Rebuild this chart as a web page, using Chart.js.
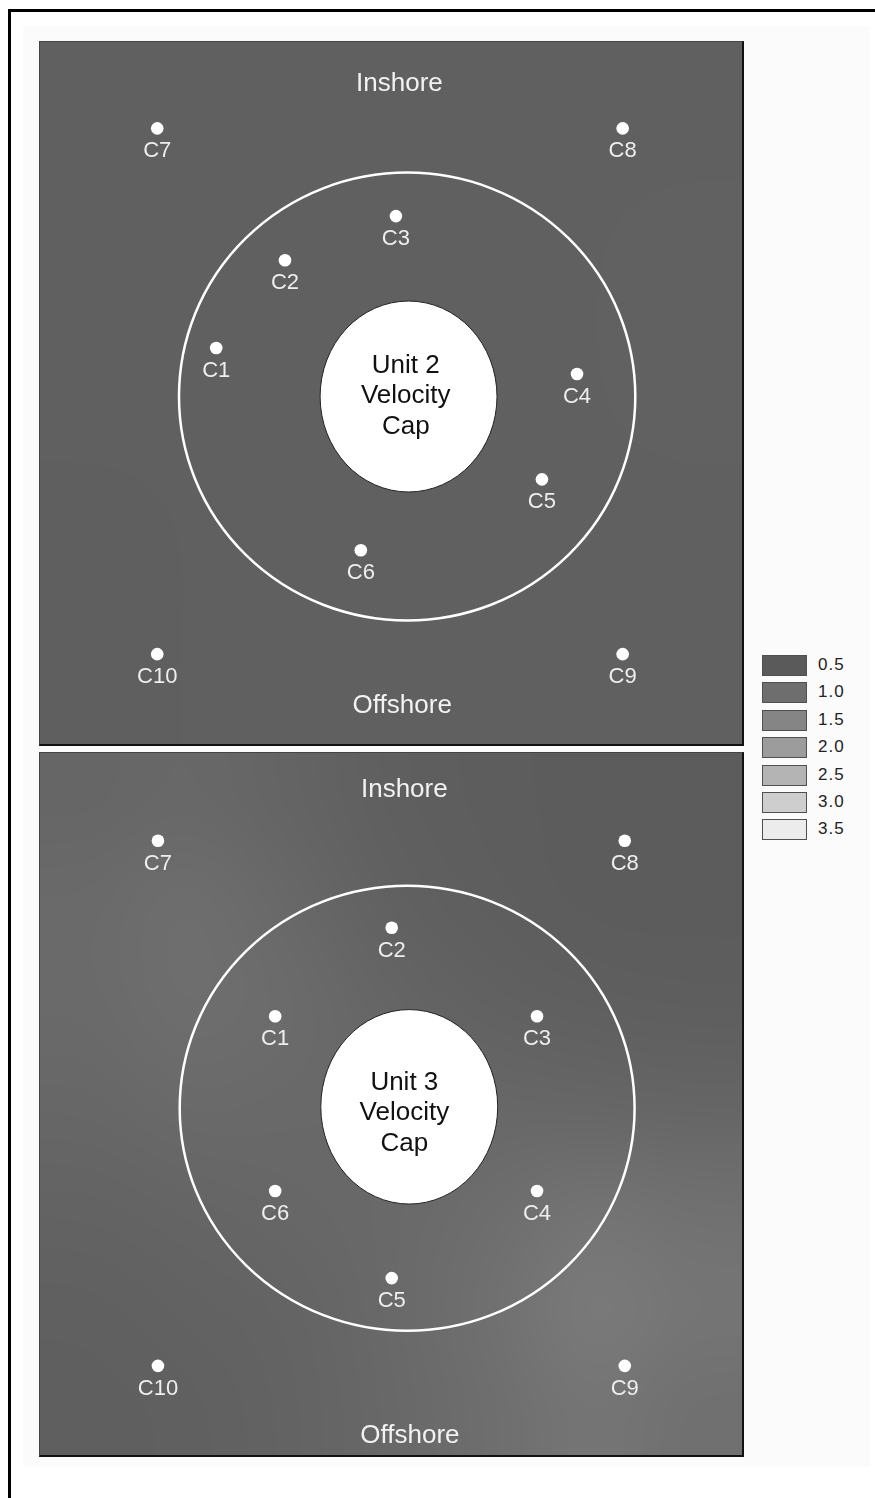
<!DOCTYPE html>
<html>
<head>
<meta charset="utf-8">
<script src="https://cdn.jsdelivr.net/npm/chart.js@4.4.1/dist/chart.umd.min.js"></script>
<style>
    body { margin: 0; width: 875px; height: 1498px; overflow: hidden; background: #fff; font-family: "Liberation Sans", Arial, sans-serif; position: relative; }
    .frame { position: absolute; left: 8px; top: 9px; width: 900px; height: 1600px; border-left: 3px solid #000; border-top: 3px solid #000; }
    .sheet { position: absolute; left: 23px; top: 26px; width: 847px; height: 1441px; background: #fbfbfb; }
    .panel { position: absolute; left: 39px; width: 702px; height: 702px; border-top: 1px solid #444; border-left: 1px solid #444; border-right: 2px solid #111; border-bottom: 2px solid #111; background: #606060; }
    .panel canvas { display: block; }
    #legend { position: absolute; left: 762px; top: 655px; }
    .lg-row { position: relative; height: 27.4px; }
    .lg-box { position: absolute; left: 0; top: 0; width: 43px; height: 19px; border: 1px solid #505050; }
    .lg-txt { position: absolute; left: 56px; top: -1px; font-size: 17px; letter-spacing: 1px; color: #222; line-height: 21px; }
</style>
</head>
<body>
<div class="frame"></div>
<div class="sheet"></div>
<div class="panel" style="top:41px"><canvas id="unit2" width="702" height="702"></canvas></div>
<div class="panel" style="top:752px"><canvas id="unit3" width="702" height="702"></canvas></div>
<div id="legend"></div>

<script>
// station names and positions (panel units, 0..100, y = 100 at the inshore edge)
const stations = ["C1", "C2", "C3", "C4", "C5", "C6", "C7", "C8", "C9", "C10"];
const unit2X = [25.1, 34.9, 50.7, 76.5, 71.5, 45.7, 16.7, 83.0, 83.0, 16.7];
const unit2Y = [56.4, 68.9, 75.2, 52.7, 37.7, 27.6, 87.7, 87.7, 12.8, 12.8];
const unit3X = [33.5, 50.1, 70.8, 70.8, 50.1, 33.5, 16.8, 83.3, 83.3, 16.8];
const unit3Y = [62.5, 75.1, 62.5, 37.6, 25.2, 37.6, 87.5, 87.5, 12.7, 12.7];

// ring and velocity cap: [centerX, centerY, radiusX, radiusY]
const unit2Ring = [52.3, 49.5, 32.5, 31.9];
const unit2Cap = [52.5, 49.5, 12.6, 13.6];
const unit3Ring = [52.3, 49.4, 32.4, 31.7];
const unit3Cap = [52.6, 49.6, 12.6, 13.85];

// legend levels (velocity) and their grey shades
const legendLevels = [0.5, 1.0, 1.5, 2.0, 2.5, 3.0, 3.5];
const legendGrays = [90, 110, 133, 156, 180, 206, 236];

// estimated velocity field, rows from inshore to offshore
const unit2Field = [
    [0.64, 0.66, 0.65, 0.66, 0.66],
    [0.64, 0.65, 0.65, 0.66, 0.67],
    [0.64, 0.65, 0.65, 0.66, 0.67],
    [0.63, 0.64, 0.65, 0.66, 0.66],
    [0.63, 0.64, 0.65, 0.65, 0.65]
];
const unit3Field = [
    [0.80, 0.85, 0.75, 0.62, 0.58, 0.55, 0.55],
    [0.90, 1.00, 0.85, 0.68, 0.60, 0.55, 0.55],
    [0.90, 1.00, 0.92, 0.78, 0.68, 0.62, 0.60],
    [0.82, 0.90, 0.88, 0.85, 0.82, 0.80, 0.78],
    [0.72, 0.78, 0.82, 0.88, 0.98, 1.10, 1.05],
    [0.66, 0.70, 0.76, 0.88, 1.05, 1.25, 1.15],
    [0.62, 0.66, 0.72, 0.85, 1.00, 1.15, 1.05]
];

const FONT = '"Liberation Sans", Arial, sans-serif';

function velocityToGray(v) {
    if (v <= legendLevels[0]) return legendGrays[0];
    for (let i = 1; i < legendLevels.length; i++) {
        if (v <= legendLevels[i]) {
            const t = (v - legendLevels[i - 1]) / (legendLevels[i] - legendLevels[i - 1]);
            return Math.round(legendGrays[i - 1] + t * (legendGrays[i] - legendGrays[i - 1]));
        }
    }
    return legendGrays[legendGrays.length - 1];
}

function grayHex(g) {
    const h = g.toString(16).padStart(2, "0");
    return "#" + h + h + h;
}

// cap-centred text at a pixel position
function capText(ctx, text, px, py, size) {
    ctx.font = size + "px " + FONT;
    ctx.textAlign = "center";
    ctx.textBaseline = "alphabetic";
    ctx.fillText(text, px, py + size * 0.358);
}

function panelPlugin(cfg) {
    return {
        id: "panelDecor",
        beforeDatasetsDraw(chart) {
            const ctx = chart.ctx;
            const xs = chart.scales.x;
            const ys = chart.scales.y;
            ctx.save();

            // velocity field
            const rows = cfg.field.length, cols = cfg.field[0].length;
            const off = document.createElement("canvas");
            off.width = cols;
            off.height = rows;
            const octx = off.getContext("2d");
            const img = octx.createImageData(cols, rows);
            cfg.field.forEach((row, r) => row.forEach((v, c) => {
                const g = velocityToGray(v);
                const k = (r * cols + c) * 4;
                img.data[k] = img.data[k + 1] = img.data[k + 2] = g;
                img.data[k + 3] = 255;
            }));
            octx.putImageData(img, 0, 0);
            const left = xs.getPixelForValue(0), right = xs.getPixelForValue(100);
            const top = ys.getPixelForValue(100), bottom = ys.getPixelForValue(0);
            ctx.imageSmoothingEnabled = true;
            ctx.imageSmoothingQuality = "high";
            ctx.drawImage(off, left, top, right - left, bottom - top);

            // outer ring
            const ring = cfg.ring;
            const rcx = xs.getPixelForValue(ring[0]);
            const rcy = ys.getPixelForValue(ring[1]);
            const rrx = xs.getPixelForValue(ring[0] + ring[2]) - rcx;
            const rry = rcy - ys.getPixelForValue(ring[1] + ring[3]);
            ctx.beginPath();
            ctx.ellipse(rcx, rcy, rrx, rry, 0, 0, Math.PI * 2);
            ctx.strokeStyle = "#ffffff";
            ctx.lineWidth = 2.5;
            ctx.stroke();

            // velocity cap
            const cap = cfg.cap;
            const ccx = xs.getPixelForValue(cap[0]);
            const ccy = ys.getPixelForValue(cap[1]);
            const crx = xs.getPixelForValue(cap[0] + cap[2]) - ccx;
            const cry = ccy - ys.getPixelForValue(cap[1] + cap[3]);
            ctx.beginPath();
            ctx.ellipse(ccx, ccy, crx, cry, 0, 0, Math.PI * 2);
            ctx.fillStyle = "#ffffff";
            ctx.fill();
            ctx.strokeStyle = "#222";
            ctx.lineWidth = 1;
            ctx.stroke();

            ctx.fillStyle = "#111";
            const tx = xs.getPixelForValue(cfg.capTextAt[0]);
            const ty = ys.getPixelForValue(cfg.capTextAt[1]);
            cfg.capLines.forEach((line, i) => {
                capText(ctx, line, tx, ty + (i - 1) * 30.5, 26);
            });

            // shore labels
            ctx.fillStyle = "#f2f2f2";
            capText(ctx, "Inshore", xs.getPixelForValue(cfg.inshoreAt[0]), ys.getPixelForValue(cfg.inshoreAt[1]), 26);
            capText(ctx, "Offshore", xs.getPixelForValue(cfg.offshoreAt[0]), ys.getPixelForValue(cfg.offshoreAt[1]), 26);

            ctx.restore();
        },
        afterDatasetsDraw(chart) {
            const ctx = chart.ctx;
            const meta = chart.getDatasetMeta(0);
            ctx.save();
            ctx.fillStyle = "#eeeeee";
            ctx.font = "22px " + FONT;
            ctx.textAlign = "center";
            ctx.textBaseline = "alphabetic";
            meta.data.forEach((pt, i) => {
                ctx.fillText(stations[i], pt.x, pt.y + 29);
            });
            ctx.restore();
        }
    };
}

function makePanel(id, xs, ys, cfg) {
    const ctx = document.getElementById(id).getContext("2d");
    return new Chart(ctx, {
        type: "scatter",
        data: {
            datasets: [{
                label: id,
                data: xs.map((x, i) => ({ x: x, y: ys[i] })),
                pointRadius: 6.3,
                pointBackgroundColor: "#ffffff",
                pointBorderWidth: 0
            }]
        },
        options: {
            responsive: false,
            animation: false,
            devicePixelRatio: 1,
            layout: { padding: 0, autoPadding: false },
            plugins: {
                legend: { display: false },
                tooltip: { enabled: false }
            },
            scales: {
                x: { type: "linear", min: 0, max: 100, display: false },
                y: { type: "linear", min: 0, max: 100, display: false }
            }
        },
        plugins: [panelPlugin(cfg)]
    });
}

makePanel("unit2", unit2X, unit2Y, {
    field: unit2Field,
    ring: unit2Ring,
    cap: unit2Cap,
    capLines: ["Unit 2", "Velocity", "Cap"],
    capTextAt: [52.1, 49.9],
    inshoreAt: [51.2, 94.4],
    offshoreAt: [51.6, 5.7]
});

makePanel("unit3", unit3X, unit3Y, {
    field: unit3Field,
    ring: unit3Ring,
    cap: unit3Cap,
    capLines: ["Unit 3", "Velocity", "Cap"],
    capTextAt: [51.9, 49.0],
    inshoreAt: [51.9, 95.0],
    offshoreAt: [52.7, 3.1]
});

// legend
const legend = document.getElementById("legend");
legendLevels.forEach((lvl, i) => {
    const row = document.createElement("div");
    row.className = "lg-row";
    row.innerHTML = `<div class="lg-box" style="background:${grayHex(legendGrays[i])}"></div>
        <div class="lg-txt">${lvl.toFixed(1)}</div>`;
    legend.appendChild(row);
});
</script>
</body>
</html>
